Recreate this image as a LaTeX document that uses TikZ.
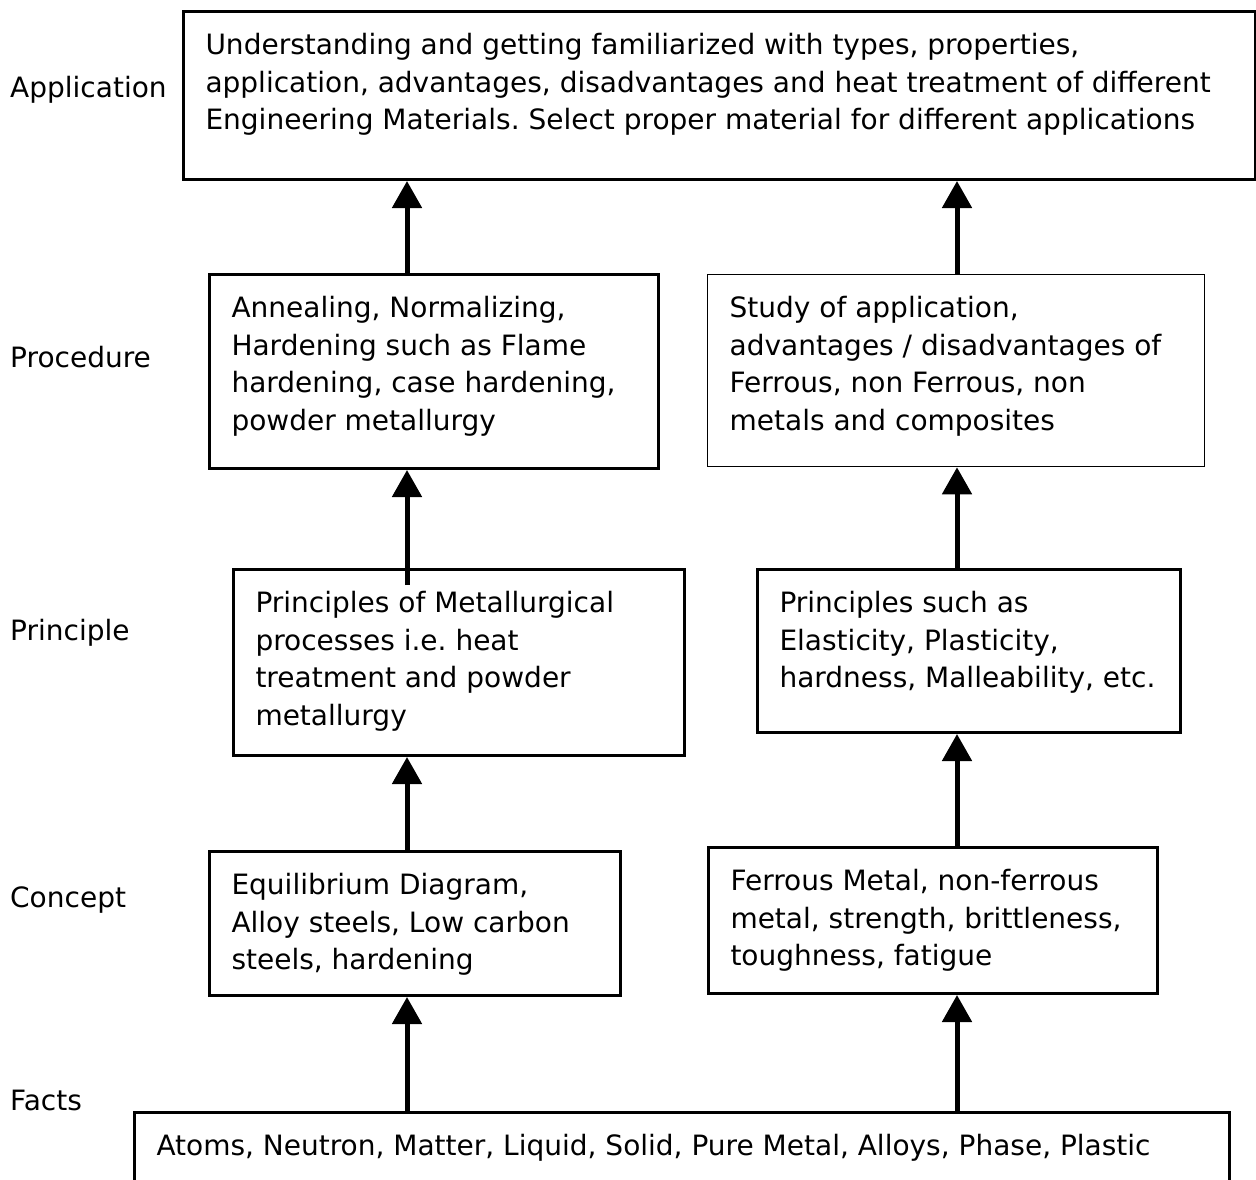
\documentclass[tikz,border=0pt]{standalone}
\usepackage{fontspec}
\setmainfont{DejaVu Sans}
\usetikzlibrary{arrows.meta,calc}
\frenchspacing
\newcommand{\blktext}[3]{\parbox[t][#2][t]{#1}{\raggedright\strut #3}}
\tikzset{
  blk/.style={draw, line width=3pt, anchor=north west, inner xsep=22pt, inner ysep=17pt},
  thinblk/.style={blk, line width=1.3pt},
  lvl/.style={anchor=base west, inner sep=0pt},
  arr/.style={line width=5pt, -{Triangle[length=27pt,width=29pt]}},
}
\begin{document}
\begin{tikzpicture}[x=1pt,y=-1pt,font=\fontsize{28}{37.5}\selectfont]
	\useasboundingbox (0,0) rectangle (1256,1180);
	% level names
	\node [lvl] (lapp) at (10,98) {Application};
	\node [lvl] (lproc) at (10,367) {Procedure};
	\node [lvl] (lpri) at (10,640) {Principle};
	\node [lvl] (lcon) at (10,907) {Concept};
	\node [lvl] (lfact) at (10,1110) {Facts};
	% columns of the arrows
	\coordinate (lc) at (407,0);
	\coordinate (rc) at (957,0);
	% boxes
	\node [blk] (app) at (182,10) {\blktext{1028pt}{134pt}{Understanding and getting familiarized with types, properties,\\
		application, advantages, disadvantages and heat treatment of different\\
		Engineering Materials. Select proper material for different applications}};
	\node [blk] (proc1) at (208,273) {\blktext{405pt}{160pt}{Annealing, Normalizing,\\ Hardening such as Flame\\ hardening, case hardening,\\ powder metallurgy}};
	\node [thinblk] (proc2) at (707,274) {\blktext{453pt}{158pt}{Study of application,\\ advantages / disadvantages of\\ Ferrous, non Ferrous, non\\ metals and composites}};
	\node [blk] (pri1) at (232,568) {\blktext{407pt}{152pt}{Principles of Metallurgical\\ processes i.e. heat\\ treatment and powder\\ metallurgy}};
	\node [blk] (pri2) at (756,568) {\blktext{379pt}{129pt}{Principles such as\\ Elasticity, Plasticity,\\ hardness, Malleability, etc.}};
	\node [blk] (con1) at (208,850) {\blktext{367pt}{110pt}{Equilibrium Diagram,\\ Alloy steels, Low carbon\\ steels, hardening}};
	\node [blk] (con2) at (707,846) {\blktext{405pt}{112pt}{Ferrous Metal, non-ferrous\\ metal, strength, brittleness,\\ toughness, fatigue}};
	\node [blk] (fact) at (133,1111) {\blktext{1051pt}{90pt}{Atoms, Neutron, Matter, Liquid, Solid, Pure Metal, Alloys, Phase, Plastic}};
	% arrows
	\draw [arr] (fact.north -| lc) -- (con1.south -| lc);
	\draw [arr] (fact.north -| rc) -- (con2.south -| rc);
	\draw [arr] (con1.north -| lc) -- (pri1.south -| lc);
	\draw [arr] (con2.north -| rc) -- (pri2.south -| rc);
	\draw [arr] ($(pri1.north -| lc)+(0,17)$) -- (proc1.south -| lc);
	\draw [arr] (pri2.north -| rc) -- (proc2.south -| rc);
	\draw [arr] (proc1.north -| lc) -- (app.south -| lc);
	\draw [arr] (proc2.north -| rc) -- (app.south -| rc);
\end{tikzpicture}
\end{document}
